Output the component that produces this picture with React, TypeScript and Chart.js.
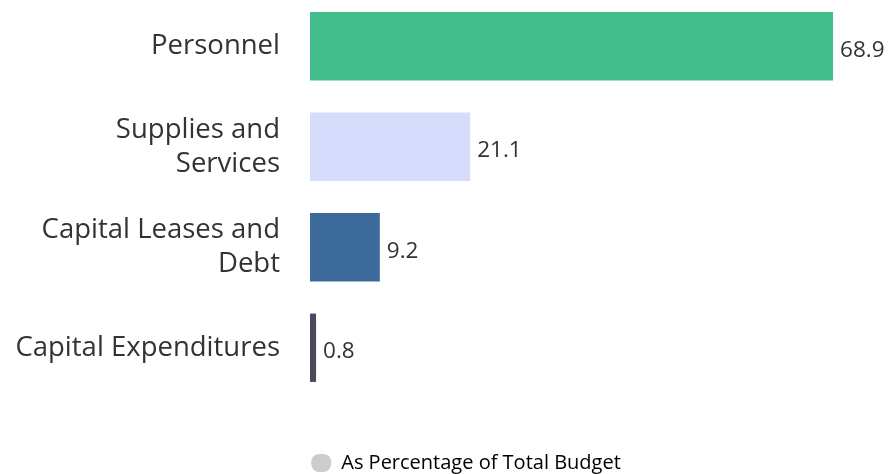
import React, { useEffect, useRef } from "react";
import { Chart, registerables } from "chart.js";

Chart.register(...registerables);

const categories: string[][] = [
  ["Personnel"],
  ["Supplies and", "Services"],
  ["Capital Leases and", "Debt"],
  ["Capital Expenditures"],
];
const values: number[] = [68.9, 21.1, 9.2, 0.8];
const barColors: string[] = ["#42BE8C", "#D6DCFB", "#3C6A9A", "#4A4C5E"];
const seriesLabel = "As Percentage of Total Budget";
const legendColor = "#CCCCCC";

const FONT = "'Open Sans'";

const valueLabels = {
  id: "valueLabels",
  afterDatasetsDraw(chart: any) {
    const ctx = chart.ctx;
    const meta = chart.getDatasetMeta(0);
    ctx.save();
    ctx.font = `22.5px ${FONT}`;
    ctx.fillStyle = "#333333";
    ctx.textAlign = "left";
    ctx.textBaseline = "middle";
    meta.data.forEach((bar: any, i: number) => {
      ctx.fillText(values[i].toFixed(1), bar.x + 7, bar.y + 4);
    });
    ctx.restore();
  },
};

export default function App() {
  const ref = useRef<HTMLCanvasElement | null>(null);

  useEffect(() => {
    document.body.style.margin = "0";
    document.body.style.overflow = "hidden";
    if (!ref.current) return;
    const chart = new Chart(ref.current, {
      type: "bar",
      data: {
        labels: categories,
        datasets: [
          {
            label: seriesLabel,
            data: values,
            backgroundColor: barColors,
            borderWidth: 0,
            barPercentage: 0.68,
            categoryPercentage: 1,
          },
        ],
      },
      options: {
        indexAxis: "y",
        animation: false,
        responsive: false,
        layout: { padding: { left: 0, right: -39, top: 0, bottom: 0 } },
        scales: {
          x: { display: false, min: 0, max: 76.8 },
          y: {
            grid: { display: false, drawTicks: false },
            border: { display: false },
            ticks: {
              padding: 30,
              color: "#333333",
              font: { family: FONT, size: 27.5, lineHeight: 1.236 },
            },
            afterFit(scale: any) {
              scale.width = 310;
              scale.paddingTop = 0;
              scale.paddingBottom = 0;
            },
          },
        },
        plugins: {
          tooltip: { enabled: false },
          legend: {
            position: "bottom",
            labels: {
              padding: 55,
              color: "#3a3a3a",
              font: { family: FONT, size: 20 },
              boxWidth: 20,
              boxHeight: 18,
              useBorderRadius: true,
              borderRadius: 8,
              generateLabels: () => [
                {
                  text: seriesLabel,
                  fillStyle: legendColor,
                  strokeStyle: legendColor,
                  lineWidth: 0,
                  hidden: false,
                  datasetIndex: 0,
                  borderRadius: 8,
                } as any,
              ],
            },
          },
        },
      } as any,
      plugins: [valueLabels],
    });
    return () => chart.destroy();
  }, []);

  return (
    <div style={{ position: "relative", width: 893, height: 474, overflow: "hidden" }}>
      <canvas
        ref={ref}
        width={893}
        height={487}
        style={{ position: "absolute", left: 0, top: -4, width: 893, height: 487 }}
      />
    </div>
  );
}
